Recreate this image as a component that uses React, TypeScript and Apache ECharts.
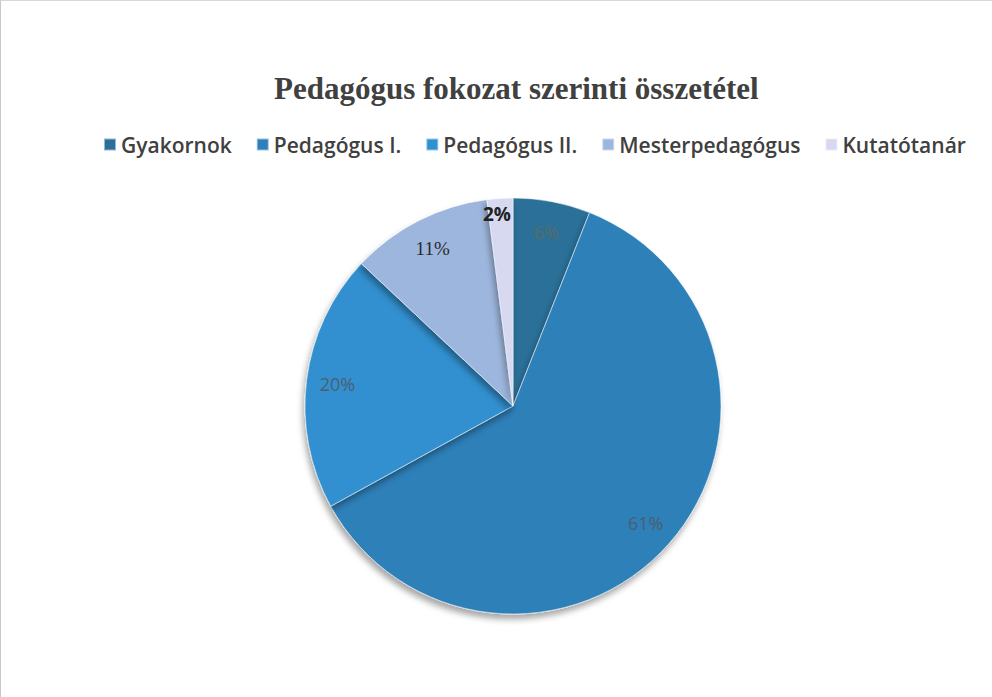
import React, { useEffect, useRef } from "react";
import * as echarts from "echarts";

const categories = ["Gyakornok", "Pedagógus I.", "Pedagógus II.", "Mesterpedagógus", "Kutatótanár"];
const values = [6, 61, 20, 11, 2];
const colors = ["#2c6f98", "#2f80b9", "#3190d0", "#9db6dd", "#d6d9ef"];
const labelColors = ["#5a6a66", "#4a5f70", "#4a6070", "#2a2a2a", "#222222"];

export default function App() {
  const ref = useRef<HTMLDivElement>(null);
  useEffect(() => {
    if (!ref.current) return;
    const chart = echarts.init(ref.current, null, { renderer: "svg" });
    const data = categories.map((c, i) => ({
      name: c,
      value: values[i],
      itemStyle: { color: colors[i] },
    }));
    chart.setOption({
      animation: false,
      backgroundColor: "#ffffff",
      title: {
        text: "Pedagógus fokozat szerinti összetétel",
        left: 268,
        top: 67,
        textStyle: {
          fontFamily: "Liberation Serif",
          fontWeight: "bold",
          fontSize: 31,
          color: "#404040",
        },
      },
      legend: {
        top: 128,
        left: 97,
        itemWidth: 12,
        itemHeight: 12,
        itemGap: 24,
        icon: "rect",
        textStyle: {
          fontFamily: "Open Sans",
          fontSize: 21,
          fontWeight: 600,
          color: "#404040",
        },
        data: categories,
      },
      series: [
        {
          type: "pie",
          center: [512, 405],
          radius: [0, 208],
          startAngle: 90,
          clockwise: true,
          label: { show: false },
          labelLine: { show: false },
          itemStyle: {
            borderColor: "rgba(255,255,255,0.5)",
            borderWidth: 1,
            shadowColor: "rgba(0,0,0,0.35)",
            shadowBlur: 6,
            shadowOffsetX: -2,
            shadowOffsetY: 5,
          },
          emphasis: { disabled: true },
          data,
        },
        {
          type: "pie",
          center: [512, 405],
          radius: [140, 208],
          startAngle: 90,
          clockwise: true,
          silent: true,
          legendHoverLink: false,
          itemStyle: { color: "transparent", borderWidth: 0 },
          label: {
            show: true,
            position: "inside",
            formatter: "{d}%",
            fontFamily: "Open Sans",
            fontSize: 18,
          },
          labelLine: { show: false },
          emphasis: { disabled: true },
          data: categories.map((c, i) => ({
            name: c,
            value: values[i],
            itemStyle: { color: "transparent" },
            label: {
              color: labelColors[i],
              fontWeight: i === 4 ? "bold" : "normal",
              fontFamily: i === 3 ? "Liberation Serif" : "Open Sans",
              fontSize: i >= 3 ? 19 : 18,
              offset: i === 4 ? [-5, -15] : [0, 0],
            },
          })),
        },
      ],
    });
    return () => chart.dispose();
  }, []);
  return (
    <div
      ref={ref}
      style={{
        position: "absolute",
        left: 0,
        top: 0,
        width: 992,
        height: 697,
        boxSizing: "border-box",
        borderTop: "1px solid #d8d8d8",
        borderLeft: "1px solid #c8c8c8",
      }}
    />
  );
}
